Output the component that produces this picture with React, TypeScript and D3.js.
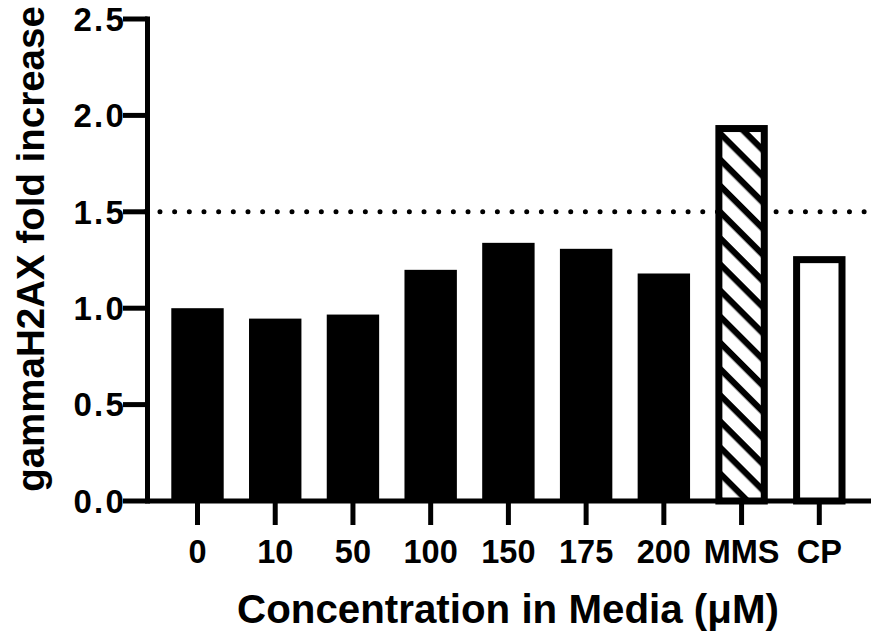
import React from "react";
import * as d3 from "d3";

const categories = ["0", "10", "50", "100", "150", "175", "200", "MMS", "CP"];
const values = [1.0, 0.946, 0.967, 1.199, 1.339, 1.308, 1.18, 1.95, 1.27];
const barStyles = ["solid", "solid", "solid", "solid", "solid", "solid", "solid", "hatch", "open"];
const yTicks = [0, 0.5, 1.0, 1.5, 2.0, 2.5];
const thresholdValue = 1.5;
const xTitle = "Concentration in Media (μM)";
const yTitle = "gammaH2AX fold increase";

const W = 871;
const H = 633;
const FONT = "'Liberation Sans', Arial, Helvetica, sans-serif";

export default function App() {
  const y = d3.scaleLinear().domain([0, 2.5]).range([501, 19]);
  const x = d3.scalePoint<string>().domain(categories).range([197.5, 819.3]);
  const barW = 52.4;
  const axisX = 147.5;
  const axisY = y(0);
  const sw = 7;
  const hp = 18.5;

  return (
    <svg
      width={W}
      height={H}
      style={{ position: "absolute", left: 0, top: 0, background: "#fff" }}
    >
      <defs>
        <pattern
          id="hatch"
          patternUnits="userSpaceOnUse"
          width={hp}
          height={hp}
          patternTransform="translate(716,125) rotate(45)"
        >
          <rect x={0} y={0} width={hp} height={hp} fill="#fff" />
          <rect x={0} y={0} width={hp} height={6.2} fill="#000" />
        </pattern>
      </defs>
      <rect x={0} y={0} width={W} height={H} fill="#fff" />

      {/* dotted threshold line */}
      <line
        x1={145.3}
        x2={W}
        y1={y(thresholdValue)}
        y2={y(thresholdValue)}
        stroke="#000"
        strokeWidth={5}
        strokeLinecap="round"
        strokeDasharray="0 14.67"
      />

      {/* bars */}
      {categories.map((c, i) => {
        const cx = x(c)!;
        const v = values[i];
        const style = barStyles[i];
        if (style === "solid") {
          return (
            <rect
              key={c}
              x={cx - barW / 2}
              y={y(v)}
              width={barW}
              height={axisY - y(v)}
              fill="#000"
            />
          );
        }
        return (
          <rect
            key={c}
            x={cx - barW / 2 + sw / 2}
            y={y(v) + sw / 2}
            width={barW - sw}
            height={axisY - y(v) - sw / 2}
            fill={style === "hatch" ? "url(#hatch)" : "#fff"}
            stroke="#000"
            strokeWidth={sw}
          />
        );
      })}

      {/* x axis */}
      <line x1={axisX} x2={W} y1={axisY} y2={axisY} stroke="#000" strokeWidth={5} />
      {categories.map((c) => (
        <g key={"xt" + c}>
          <line x1={x(c)!} x2={x(c)!} y1={axisY} y2={525} stroke="#000" strokeWidth={5} />
          <text
            x={x(c)!}
            y={563}
            textAnchor="middle"
            fontFamily={FONT}
            fontWeight="bold"
            fontSize={32.5}
            fill="#000"
          >
            {c}
          </text>
        </g>
      ))}

      {/* y axis */}
      <line
        x1={axisX}
        x2={axisX}
        y1={y(2.5)}
        y2={axisY}
        stroke="#000"
        strokeWidth={5}
        strokeLinecap="square"
      />
      {yTicks.map((t) => (
        <g key={"yt" + t}>
          <line x1={123} x2={axisX} y1={y(t)} y2={y(t)} stroke="#000" strokeWidth={5} />
          <text
            x={126}
            y={y(t)}
            dy="0.36em"
            textAnchor="end"
            fontFamily={FONT}
            fontWeight="bold"
            fontSize={33}
            letterSpacing={2.2}
            fill="#000"
          >
            {d3.format(".1f")(t)}
          </text>
        </g>
      ))}

      {/* titles */}
      <text
        x={508}
        y={623}
        textAnchor="middle"
        fontFamily={FONT}
        fontWeight="bold"
        fontSize={40.3}
        fill="#000"
      >
        {xTitle}
      </text>
      <text
        transform={`translate(44, ${249}) rotate(-90)`}
        textAnchor="middle"
        fontFamily={FONT}
        fontWeight="bold"
        fontSize={38.5}
        fill="#000"
      >
        {yTitle}
      </text>
    </svg>
  );
}
